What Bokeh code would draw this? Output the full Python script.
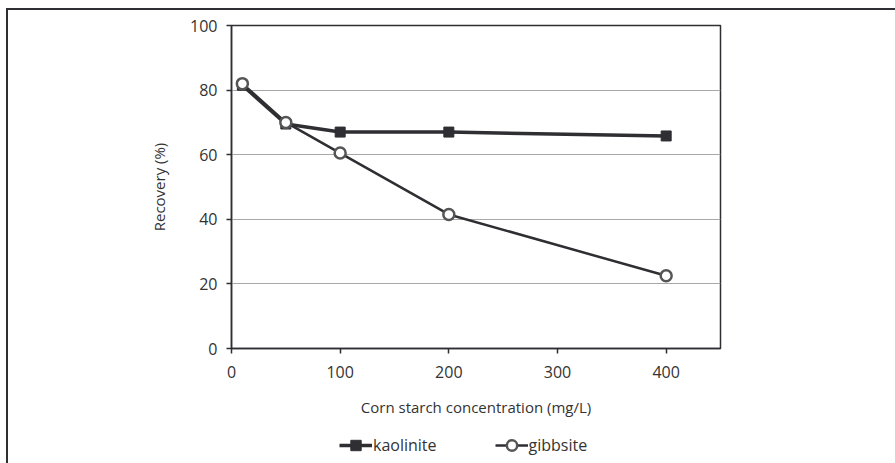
from bokeh.plotting import figure
from bokeh.layouts import column
from bokeh.models import Range1d, FixedTicker, Legend, LegendItem
from bokeh.embed import file_html
from bokeh.resources import INLINE

conc = [10, 50, 100, 200, 400]
kaolinite = [81.5, 69.5, 67.0, 67.0, 65.8]
gibbsite = [82.0, 70.0, 60.5, 41.5, 22.5]
x_ticks = [0, 100, 200, 300, 400]
y_ticks = [0, 20, 40, 60, 80, 100]

FONT = "Open Sans"
DARK = "#2e2e33"


def draw_series(fig):
    kl = fig.line(conc, kaolinite, line_color=DARK, line_width=3.5)
    ks = fig.scatter(conc, kaolinite, marker="square", size=10, fill_color=DARK, line_color=DARK)
    gl = fig.line(conc, gibbsite, line_color=DARK, line_width=2.5)
    gs = fig.scatter(conc, gibbsite, marker="circle", size=11, fill_color="white",
                     line_color="#555555", line_width=2.5)
    return kl, ks, gl, gs


p = figure(width=887, height=414, output_backend="svg", toolbar_location=None,
           x_range=Range1d(0, 450), y_range=Range1d(0, 100),
           min_border_left=223, min_border_right=175, min_border_top=15, min_border_bottom=76)

p.outline_line_color = DARK
p.outline_line_width = 1.5

p.xgrid.visible = False
p.ygrid.ticker = FixedTicker(ticks=[20, 40, 60, 80])
p.ygrid.grid_line_color = "#a8a8a8"
p.ygrid.grid_line_width = 1

for ax in (p.xaxis, p.yaxis):
    ax.axis_line_color = DARK
    ax.axis_line_width = 1.5
    ax.major_tick_line_color = DARK
    ax.major_tick_line_width = 1.5
    ax.major_tick_in = 0
    ax.major_tick_out = 5
    ax.minor_tick_line_color = None
    ax.major_label_text_font = FONT
    ax.major_label_text_font_size = "16px"
    ax.major_label_text_color = "#333333"
    ax.axis_label_text_font = FONT
    ax.axis_label_text_font_size = "15px"
    ax.axis_label_text_font_style = "normal"
    ax.axis_label_text_color = "#333333"

p.xaxis.ticker = FixedTicker(ticks=x_ticks)
p.yaxis.ticker = FixedTicker(ticks=y_ticks)
p.xaxis.axis_label = "Corn starch concentration (mg/L)"
p.yaxis.axis_label = "Recovery (%)"
p.xaxis.major_label_standoff = 12
p.xaxis.axis_label_standoff = 16
p.yaxis.major_label_standoff = 9
p.yaxis.axis_label_standoff = 18

draw_series(p)

# legend strip: same series, drawn out of view, only the legend is visible
q = figure(width=887, height=39, output_backend="svg", toolbar_location=None,
           x_range=Range1d(1000, 1001), y_range=Range1d(1000, 1001),
           x_axis_type=None, y_axis_type=None,
           min_border_left=0, min_border_right=0, min_border_top=0, min_border_bottom=0)
q.outline_line_color = None
q.xgrid.visible = False
q.ygrid.visible = False
kl, ks, gl, gs = draw_series(q)

legend = Legend(items=[LegendItem(label="kaolinite", renderers=[kl, ks]),
                       LegendItem(label="gibbsite", renderers=[gl, gs])],
                orientation="horizontal", location=(108, 5),
                border_line_color=None, background_fill_alpha=0,
                label_text_font=FONT, label_text_font_size="16px",
                label_text_color="#333333", glyph_width=33, glyph_height=26,
                label_standoff=1, spacing=58, padding=0, margin=0)
q.add_layout(legend)

layout = column(p, q, spacing=0)
layout.styles = {"margin-left": "6px", "margin-top": "8px",
                 "border-left": "2px solid #2e2e33", "border-top": "2px solid #2e2e33"}

open("out.html", "w").write(file_html(layout, INLINE))
